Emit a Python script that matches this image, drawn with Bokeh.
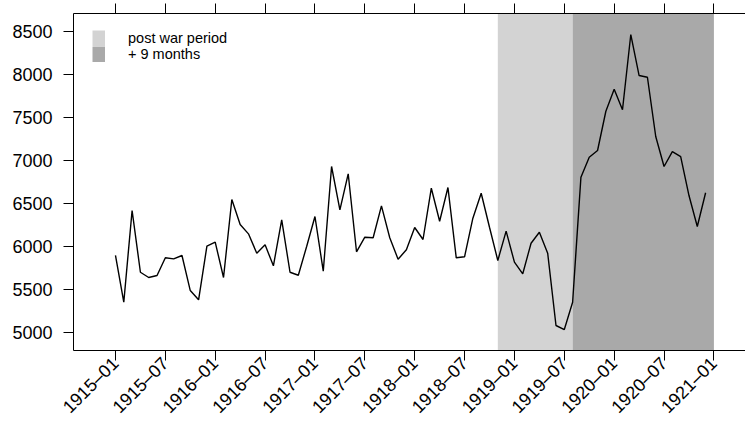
import math
from bokeh.plotting import figure
from bokeh.models import (Range1d, FixedTicker, LinearAxis, Legend, LegendItem)
from bokeh.embed import file_html
from bokeh.resources import INLINE

# ---- data (monthly, index 0 = 1915-01) ----
values = [5893, 5349, 6417, 5698, 5637, 5660, 5866, 5854, 5893, 5485, 5377, 6001,
          6048, 5637, 6545, 6254, 6145, 5920, 6017, 5773, 6308, 5698, 5663, 5998,
          6347, 5710, 6929, 6425, 6844, 5936, 6106, 6099, 6471, 6099, 5850, 5959,
          6219, 6079, 6676, 6292, 6684, 5866, 5878, 6327, 6618, 6222, 5835, 6176,
          5815, 5680, 6036, 6164, 5920, 5078, 5031, 5349, 6804, 7037, 7115, 7572,
          7829, 7589, 8465, 7988, 7968, 7278, 6929, 7103, 7045, 6591, 6230, 6623]
months = list(range(len(values)))

tick_months = [0, 6, 12, 18, 24, 30, 36, 42, 48, 54, 60, 66, 72]
tick_labels = ["1915–01", "1915–07", "1916–01", "1916–07", "1917–01", "1917–07",
               "1918–01", "1918–07", "1919–01", "1919–07", "1920–01", "1920–07",
               "1921–01"]
y_ticks = [5000, 5500, 6000, 6500, 7000, 7500, 8000, 8500]

# shaded periods: post war period (1918-11 .. 1919-08), + 9 months (1919-08 .. 1921-01)
period_names = ["post war period", "+ 9 months"]
period_start = [46, 55]
period_end = [55, 72]
period_colors = ["#D3D3D3", "#A9A9A9"]

x_lo, x_hi = -5.05, 75.8
y_lo, y_hi = 4787, 8710

FONT = "Liberation Sans"

p = figure(width=745, height=427, output_backend="svg", toolbar_location=None,
           x_range=Range1d(x_lo, x_hi), y_range=Range1d(y_lo, y_hi),
           min_border_left=73, min_border_right=0, min_border_top=13,
           min_border_bottom=77, x_axis_location=None, y_axis_location=None)
p.grid.visible = False
p.outline_line_color = None
p.background_fill_color = "white"
p.border_fill_color = "white"

legend_items = []
for name, s, e, c in zip(period_names, period_start, period_end, period_colors):
    p.quad(left=[s], right=[e], bottom=[y_lo], top=[y_hi],
           fill_color=c, line_color=None)
    # legend swatch: a thick bar that fills the whole legend glyph cell
    proxy = p.line(x=[float("nan")], y=[float("nan")], line_color=c,
                   line_width=16, line_cap="butt")
    legend_items.append(LegendItem(label=name, renderers=[proxy]))

p.line(months, values, line_color="black", line_width=1.4)

def style_axis(ax):
    ax.axis_line_color = "black"
    ax.axis_line_width = 1
    ax.major_tick_line_color = "black"
    ax.major_tick_line_width = 1
    ax.major_tick_in = 0
    ax.minor_tick_line_color = None
    ax.major_label_text_font = FONT
    ax.major_label_text_font_size = "18px"
    ax.major_label_text_color = "black"

left = LinearAxis(ticker=FixedTicker(ticks=y_ticks))
style_axis(left)
left.major_tick_out = 10
left.major_label_standoff = 11
p.add_layout(left, "left")

bottom = LinearAxis(ticker=FixedTicker(ticks=tick_months))
style_axis(bottom)
bottom.major_tick_out = 10
bottom.major_label_standoff = 0
bottom.major_label_overrides = {m: l for m, l in zip(tick_months, tick_labels)}
bottom.major_label_orientation = math.pi / 4
p.add_layout(bottom, "below")

top = LinearAxis(ticker=FixedTicker(ticks=tick_months))
style_axis(top)
top.major_tick_out = 10
top.major_label_standoff = 0
top.major_label_text_font_size = "0px"
top.major_label_overrides = {m: "" for m in tick_months}
p.add_layout(top, "above")

legend = Legend(items=legend_items,
                location=(19, 288), orientation="vertical",
                glyph_width=13, glyph_height=16, label_height=16,
                label_standoff=23, spacing=0, padding=0, margin=0,
                border_line_color=None, background_fill_alpha=0,
                label_text_font=FONT, label_text_font_size="14.5px",
                label_text_color="black")
p.add_layout(legend, "center")

open("out.html", "w").write(file_html(p, INLINE))
